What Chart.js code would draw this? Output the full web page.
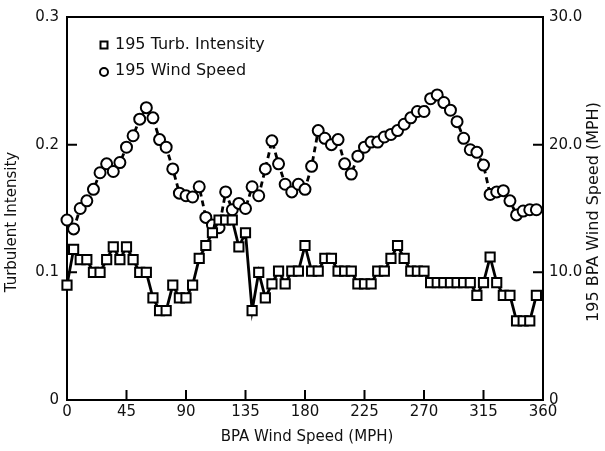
<!DOCTYPE html>
<html><head><meta charset="utf-8">
<script src="https://cdn.jsdelivr.net/npm/chart.js@4/dist/chart.umd.min.js"></script>
<style>html,body{margin:0;padding:0;background:#fff}#wrap{width:605px;height:451px}</style>
</head><body><div id="wrap"><canvas id="c" width="605" height="451"></canvas></div>
<script>
const angles = [0,5,10,15,20,25,30,35,40,45,50,55,60,65,70,75,80,85,90,95,100,105,110,115,120,125,130,135,140,145,150,155,160,165,170,175,180,185,190,195,200,205,210,215,220,225,230,235,240,245,250,255,260,265,270,275,280,285,290,295,300,305,310,315,320,325,330,335,340,345,350,355];
const turbIntensity = [0.090,0.118,0.110,0.110,0.100,0.100,0.110,0.120,0.110,0.120,
 0.110,0.100,0.100,0.080,0.070,0.070,0.090,0.080,0.080,0.090,
 0.111,0.121,0.131,0.141,0.141,0.141,0.120,0.131,0.070,0.100,
 0.080,0.091,0.101,0.091,0.101,0.101,0.121,0.101,0.101,0.111,
 0.111,0.101,0.101,0.101,0.091,0.091,0.091,0.101,0.101,0.111,
 0.121,0.111,0.101,0.101,0.101,0.092,0.092,0.092,0.092,0.092,
 0.092,0.092,0.082,0.092,0.112,0.092,0.082,0.082,0.062,0.062,
 0.062,0.082];
const windSpeed = [14.1,13.4,15.0,15.6,16.5,17.8,18.5,17.9,18.6,19.8,
 20.7,22.0,22.9,22.1,20.4,19.8,18.1,16.2,16.0,15.9,
 16.7,14.3,13.7,13.5,16.3,14.9,15.4,15.0,16.7,16.0,
 18.1,20.3,18.5,16.9,16.3,16.9,16.5,18.3,21.1,20.5,
 20.0,20.4,18.5,17.7,19.1,19.8,20.2,20.2,20.6,20.8,
 21.1,21.6,22.1,22.6,22.6,23.6,23.9,23.3,22.7,21.8,
 20.5,19.6,19.4,18.4,16.1,16.3,16.4,15.6,14.5,14.8,
 14.9,14.9];
const xTicks = [0,45,90,135,180,225,270,315,360];
const leftTicks = [0,0.1,0.2,0.3];
const rightTicks = [0,10,20,30];
const seriesNames = ['195 Turb. Intensity','195 Wind Speed'];
const xTitle = 'BPA Wind Speed (MPH)';
const leftTitle = 'Turbulent Intensity';
const rightTitle = '195 BPA Wind Speed (MPH)';

const FONT = "'DejaVu Sans', sans-serif";
const INK = '#111';

const decor = {
  id: 'decor',
  beforeDatasetsDraw(chart) {
    const {ctx, chartArea: a, scales} = chart;
    ctx.save();
    ctx.strokeStyle = '#000';
    ctx.lineWidth = 2;
    ctx.strokeRect(a.left, a.top, a.right - a.left, a.bottom - a.top);
    const L = 10;
    ctx.beginPath();
    xTicks.forEach(v => { const p = scales.x.getPixelForValue(v); ctx.moveTo(p, a.bottom); ctx.lineTo(p, a.bottom - L); });
    leftTicks.forEach(v => { const p = scales.y.getPixelForValue(v); ctx.moveTo(a.left, p); ctx.lineTo(a.left + L, p); });
    rightTicks.forEach(v => { const p = scales.y2.getPixelForValue(v); ctx.moveTo(a.right, p); ctx.lineTo(a.right - L, p); });
    ctx.stroke();
    // titles
    ctx.fillStyle = INK;
    ctx.font = '15px ' + FONT;
    ctx.textAlign = 'center';
    ctx.textBaseline = 'middle';
    ctx.fillText(xTitle, (a.left + a.right) / 2 + 2, 437);
    ctx.save(); ctx.translate(12, 222); ctx.rotate(-Math.PI / 2); ctx.fillText(leftTitle, 0, 0); ctx.restore();
    ctx.font = '16px ' + FONT;
    ctx.save(); ctx.translate(594, 212); ctx.rotate(-Math.PI / 2); ctx.fillText(rightTitle, 0, 0); ctx.restore();
    // legend
    ctx.font = '16px ' + FONT;
    ctx.textAlign = 'left';
    ctx.lineWidth = 2;
    ctx.fillStyle = '#fff';
    ctx.beginPath(); ctx.rect(100.5, 41.5, 7, 7); ctx.fill(); ctx.stroke();
    ctx.beginPath(); ctx.arc(104, 72, 4, 0, Math.PI * 2); ctx.fill(); ctx.stroke();
    ctx.fillStyle = INK;
    ctx.fillText(seriesNames[0], 115, 45);
    ctx.fillText(seriesNames[1], 115, 71);
    ctx.restore();
  }
};

new Chart(document.getElementById('c'), {
  type: 'line',
  data: {
    datasets: [
      {
        label: seriesNames[0],
        data: angles.map((a, i) => ({x: a, y: turbIntensity[i]})),
        yAxisID: 'y',
        borderColor: '#000', borderWidth: 2.8,
        pointStyle: 'rect', pointRadius: 6.5,
        pointBackgroundColor: '#fff', pointBorderColor: '#000', pointBorderWidth: 2,
        tension: 0, clip: false
      },
      {
        label: seriesNames[1],
        data: angles.map((a, i) => ({x: a, y: windSpeed[i]})),
        yAxisID: 'y2',
        borderColor: '#000', borderWidth: 2.8, borderDash: [6, 4],
        pointStyle: 'circle', pointRadius: 5.5,
        pointBackgroundColor: '#fff', pointBorderColor: '#000', pointBorderWidth: 2,
        tension: 0, clip: false
      }
    ]
  },
  options: {
    responsive: false, animation: false, devicePixelRatio: 1,
    layout: {padding: {top: 13, left: 0, right: 0, bottom: 0}},
    plugins: {legend: {display: false}, tooltip: {enabled: false}},
    scales: {
      x: {
        type: 'linear', min: 0, max: 360,
        afterBuildTicks: s => { s.ticks = xTicks.map(v => ({value: v})); },
        afterFit: s => { s.height = 51; },
        grid: {display: false, drawTicks: false}, border: {display: false},
        ticks: {padding: 3, color: INK, font: {family: FONT, size: 15}, maxRotation: 0, autoSkip: false}
      },
      y: {
        type: 'linear', position: 'left', min: 0, max: 0.3,
        afterBuildTicks: s => { s.ticks = leftTicks.map(v => ({value: v})); },
        afterFit: s => { s.width = 67; },
        grid: {display: false, drawTicks: false}, border: {display: false},
        ticks: {padding: 8, color: INK, font: {family: FONT, size: 15},
          callback: v => v === 0 ? '0' : v.toFixed(1)}
      },
      y2: {
        type: 'linear', position: 'right', min: 0, max: 30,
        afterBuildTicks: s => { s.ticks = rightTicks.map(v => ({value: v})); },
        afterFit: s => { s.width = 62; },
        grid: {display: false, drawTicks: false}, border: {display: false},
        ticks: {padding: 6, color: INK, font: {family: FONT, size: 15},
          callback: v => v === 0 ? '0' : v.toFixed(1)}
      }
    }
  },
  plugins: [decor]
});
</script>
</body></html>
